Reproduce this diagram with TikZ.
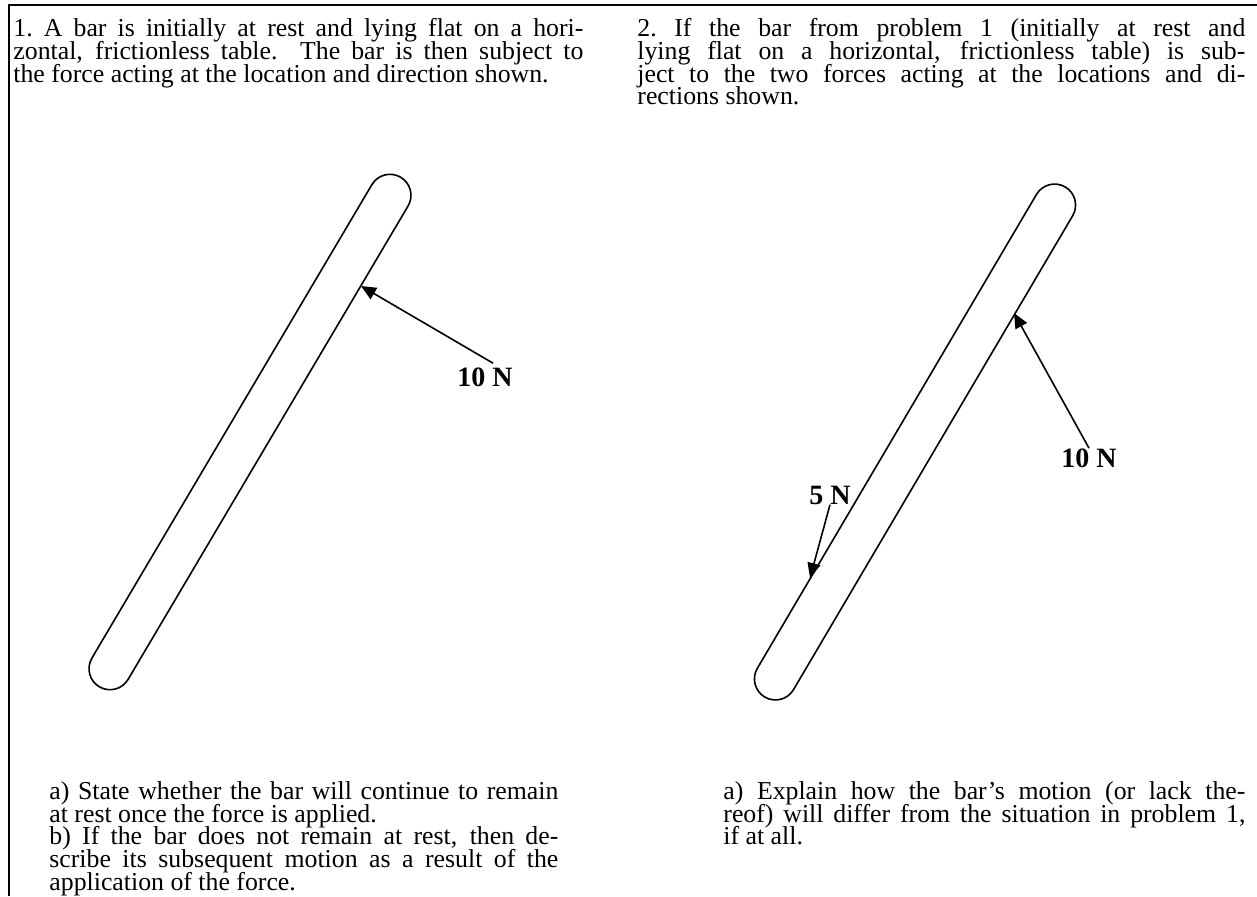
\documentclass[tikz,border=0pt]{standalone}
\usepackage{fontspec}
\setmainfont{Liberation Serif}
\usetikzlibrary{arrows.meta}
\setlength{\parindent}{0pt}
\setlength{\lineskiplimit}{-20pt}
\newcommand\parafont{\fontsize{12.9}{11.4}\selectfont\normalbaselineskip=\baselineskip\lineskiplimit=-20pt\relax}
\begin{document}
\begin{tikzpicture}[x=0.5pt,y=-0.5pt,
  bar/.style={draw,line width=0.8pt,rectangle,rounded corners=10.5pt,minimum width=296pt,minimum height=21pt,inner sep=0pt},
  force/.style={line width=0.8pt,-{Triangle[length=7.5pt,width=6.5pt]}},
  flabel/.style={inner sep=0pt,font=\fontsize{14}{16}\selectfont\bfseries},
  para/.style={anchor=north west,inner sep=0pt,align=justify,font=\parafont}]
\useasboundingbox (0,0) rectangle (1257,896);
\draw[line width=1pt] (9,896)--(9,5)--(1257,5);
\node[para,text width=285pt] (txtA) at (13,18) {1.\ A bar is initially at rest and lying flat on a hori-\linebreak zontal, frictionless table.  The bar is then subject to\linebreak the force acting at the location and direction shown.};
\node[para,text width=304pt] (txtB) at (637,18) {2.\ If the bar from problem 1 (initially at rest and\linebreak lying flat on a horizontal, frictionless table) is sub-\linebreak ject to the two forces acting at the locations and di-\linebreak rections shown.};
\node[bar,rotate=59.4] (barA) at (250,432) {};
\node[bar,rotate=59.5] (barB) at (915,442) {};
\coordinate (hitA) at (361,286);
\coordinate (hitB) at (1014,313);
\coordinate (hitC) at (810,578);
\node[flabel] (tenA) at (485,377) {10 N};
\node[flabel] (tenB) at (1089,458) {10 N};
\node[flabel] (five) at (830,495) {5 N};
\draw[force] ([xshift=4pt,yshift=2pt]tenA.north) -- (hitA);
\draw[force] (tenB.north) -- (hitB);
\draw[force] (five.south) -- (hitC);
\node[para,text width=254.5pt] (askA) at (49,781) {a) State whether the bar will continue to remain\linebreak at rest once the force is applied.\par b) If the bar does not remain at rest, then de-\linebreak scribe its subsequent motion as a result of the\linebreak application of the force.};
\node[para,text width=261pt] (askB) at (723,781) {a) Explain how the bar's motion (or lack the-\linebreak reof) will differ from the situation in problem 1,\linebreak if at all.};
\end{tikzpicture}
\end{document}
